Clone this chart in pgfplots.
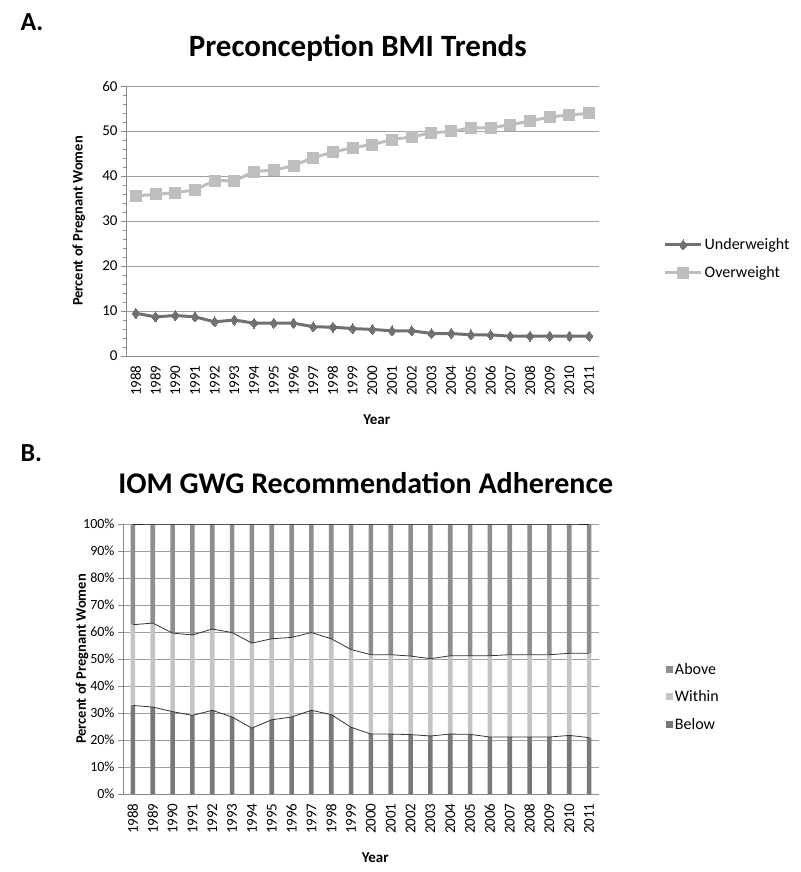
\documentclass[border=0pt]{standalone}
\usepackage{fontspec}
\setmainfont{Carlito}
\usepackage{pgfplots}
\pgfplotsset{compat=1.18}
\usepackage{pgfplotstable}

\pgfplotstableread{
year under over
1988 9.5 35.6
1989 8.7 35.9
1990 9.0 36.3
1991 8.7 36.9
1992 7.6 39.0
1993 8.0 38.9
1994 7.3 41.0
1995 7.3 41.3
1996 7.3 42.3
1997 6.5 44.1
1998 6.4 45.3
1999 6.1 46.3
2000 5.9 47.0
2001 5.6 48.1
2002 5.6 48.7
2003 5.0 49.6
2004 5.0 49.9
2005 4.7 50.7
2006 4.7 50.7
2007 4.4 51.4
2008 4.4 52.2
2009 4.4 53.1
2010 4.4 53.6
2011 4.4 53.9
}\bmi

\pgfplotstableread{
year below within above
1988 32.8 29.9 37.3
1989 32.2 31.1 36.7
1990 30.5 29.1 40.4
1991 29.1 29.8 41.1
1992 31.0 30.1 38.9
1993 28.5 31.3 40.2
1994 24.4 31.5 44.1
1995 27.5 30.0 42.5
1996 28.5 29.5 42.0
1997 31.0 28.8 40.2
1998 29.4 28.1 42.5
1999 24.7 28.8 46.5
2000 22.2 29.4 48.4
2001 22.2 29.4 48.4
2002 22.0 29.1 48.9
2003 21.5 28.6 49.9
2004 22.2 29.0 48.8
2005 22.1 29.1 48.8
2006 21.1 30.1 48.8
2007 21.1 30.5 48.4
2008 21.1 30.5 48.4
2009 21.1 30.5 48.4
2010 21.7 30.4 47.9
2011 20.9 31.2 47.9
}\gwg

\definecolor{cunder}{HTML}{707070}
\definecolor{cover}{HTML}{BEBEBE}
\definecolor{cbelow}{HTML}{787878}
\definecolor{cwithin}{HTML}{C4C4C4}
\definecolor{cabove}{HTML}{8E8E8E}
\definecolor{gridc}{HTML}{A0A0A0}
\definecolor{axc}{HTML}{8A8A8A}

\pgfplotsset{
  common/.style={
    scale only axis,
    height=270pt,
    xmin=1987.5, xmax=2011.5,
    enlargelimits=false,
    axis lines*=left,
    axis line style={draw=axc},
    ymajorgrids,
    grid style={draw=gridc, line width=0.6pt},
    tick align=outside,
    major tick length=5pt,
    minor tick length=3pt,
    ytick style={draw=axc},
    xtick style={draw=none},
    xtick={1988,...,2011},
    /pgf/number format/assume math mode=true,
    /pgf/number format/1000 sep={},
    xticklabel style={rotate=90, anchor=east, font=\fontsize{15}{17}\selectfont, xshift=-1pt},
    yticklabel style={font=\fontsize{15}{18}\selectfont},
    ylabel={Percent of Pregnant Women},
    ylabel style={at={(axis description cs:-0.1,0.5)}, anchor=center, font=\fontsize{14.5}{16}\selectfont\bfseries},
    xlabel={Year},
    xlabel style={at={(axis description cs:0.53,-0.237)}, anchor=center, font=\fontsize{15}{16}\selectfont\bfseries},
    legend cell align=left,
  }
}

\begin{document}
\begin{tikzpicture}
\path[use as bounding box] (0pt,0pt) rectangle (800pt,-872pt);
\node[anchor=west, font=\fontsize{26}{30}\selectfont\bfseries] at (17pt,-22pt) {A.};
\node[anchor=west, font=\fontsize{26}{30}\selectfont\bfseries] at (17pt,-453pt) {B.};

\begin{axis}[common,
  at={(126pt,-356pt)}, anchor=south west,
  width=473pt,
  ymin=0, ymax=60,
  ytick={0,10,...,60},
  minor y tick num=4,
  title={Preconception BMI Trends},
  title style={at={(axis description cs:0.49,1)}, anchor=center, yshift=32pt, font=\fontsize{31}{34}\selectfont\bfseries},
  legend style={at={(axis description cs:1.13,0.36)}, anchor=west, draw=none, fill=none,
    font=\fontsize{16}{19}\selectfont, row sep=11pt},
  legend image code/.code={\draw[mark repeat=2, mark phase=2, #1] plot coordinates {(0pt,0pt) (18pt,0pt) (36pt,0pt)};},
]
\addplot[color=cunder, line width=3pt, mark=diamond*, mark size=5pt, mark options={line width=0pt}] table[x=year, y=under] {\bmi};
\addlegendentry{Underweight}
\addplot[color=cover, line width=3pt, mark=square*, mark size=5.5pt, mark options={line width=0pt}] table[x=year, y=over] {\bmi};
\addlegendentry{Overweight}
\end{axis}

\begin{axis}[common,
  at={(123pt,-794pt)}, anchor=south west,
  width=476pt,
  ybar stacked, bar width=4.6pt,
  ymin=0, ymax=100,
  ytick={0,10,...,100},
  yticklabel={\pgfmathprintnumber{\tick}\%},
  yticklabel style={font=\fontsize{14}{16}\selectfont},
  ylabel style={at={(axis description cs:-0.086,0.5)}},
  title={IOM GWG Recommendation Adherence},
  title style={at={(axis description cs:0.51,1)}, anchor=center, yshift=35pt, font=\fontsize{30}{33}\selectfont\bfseries},
  reverse legend,
  legend style={at={(axis description cs:1.134,0.36)}, anchor=west, draw=none, fill=none,
    font=\fontsize{16}{19}\selectfont, row sep=11pt},
  legend image code/.code={\fill[#1] (0pt,-3.5pt) rectangle (7pt,3.5pt);},
]
\addplot[fill=cbelow, draw=none] table[x=year, y=below] {\gwg};
\addlegendentry{Below}
\addplot[fill=cwithin, draw=none] table[x=year, y=within] {\gwg};
\addlegendentry{Within}
\addplot[fill=cabove, draw=none] table[x=year, y=above] {\gwg};
\addlegendentry{Above}
\end{axis}

\begin{axis}[
  at={(123pt,-794pt)}, anchor=south west,
  scale only axis, width=476pt, height=270pt,
  xmin=1987.5, xmax=2011.5, ymin=0, ymax=100,
  enlargelimits=false, hide axis, clip=false,
]
\addplot[color=black!80, line width=0.8pt] table[x=year, y expr=\thisrow{below}] {\gwg};
\addplot[color=black!80, line width=0.8pt] table[x=year, y expr=\thisrow{below}+\thisrow{within}] {\gwg};
\addplot[color=black!85, line width=1pt] table[x=year, y expr=100] {\gwg};
\end{axis}
\end{tikzpicture}
\end{document}
